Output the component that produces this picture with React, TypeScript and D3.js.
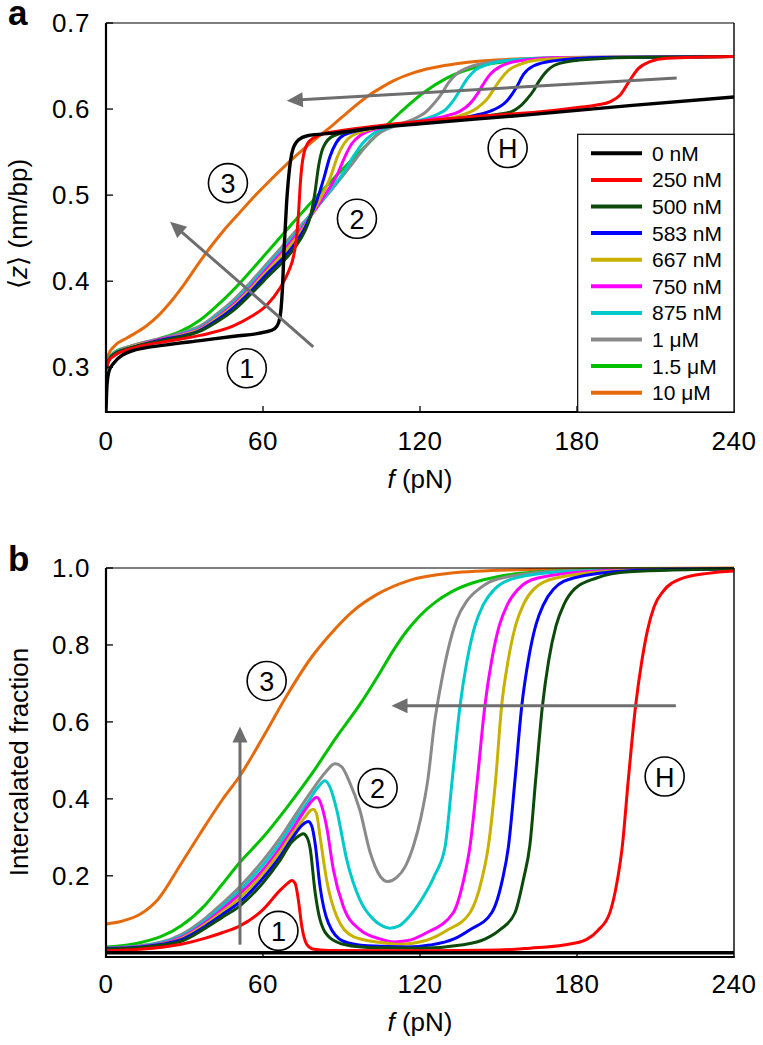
import React from 'react';
import * as d3 from 'd3';

// ---------- labels, colours, ticks ----------
const seriesLabels = ['0 nM', '250 nM', '500 nM', '583 nM', '667 nM', '750 nM', '875 nM', '1 μM', '1.5 μM', '10 μM'];
const seriesColors = ['#000000', '#ff0000', '#0b4a0b', '#0000ff', '#c9b100', '#ff00ff', '#00c9c9', '#8a8a8a', '#00c000', '#e66a0c'];
const xTicks = [0, 60, 120, 180, 240];
const yTicksA = [0.3, 0.4, 0.5, 0.6, 0.7];
const yTicksB = [0.2, 0.4, 0.6, 0.8, 1.0];

// ---------- panel a: <z> (nm/bp) vs f (pN) ----------
const zA_0nM: [number, number][] = [[0, 0.249], [0.4, 0.28], [1.2, 0.296], [3, 0.305], [10, 0.319], [23, 0.326], [36, 0.331], [49, 0.336], [61, 0.341], [64.5, 0.345], [66, 0.352], [66.8, 0.365], [67.4, 0.39], [68.1, 0.44], [69, 0.49], [70, 0.527], [71.3, 0.552], [73.5, 0.564], [77, 0.569], [87, 0.572], [105, 0.579], [120, 0.583], [160, 0.593], [200, 0.604], [240, 0.614]];
const zA_250nM: [number, number][] = [[0, 0.298], [1, 0.307], [3, 0.313], [10, 0.322], [23, 0.33], [36, 0.337], [48.7, 0.348], [55, 0.358], [61.4, 0.372], [66.5, 0.392], [70, 0.413], [71.6, 0.428], [72.8, 0.45], [73.6, 0.48], [74.3, 0.515], [75.4, 0.545], [77.5, 0.562], [81.8, 0.57], [90, 0.575], [105, 0.581], [140, 0.591], [170, 0.598], [181, 0.602], [188, 0.605], [193, 0.609], [196.4, 0.616], [200.3, 0.634], [203.4, 0.647], [207.9, 0.655], [214.3, 0.659], [240, 0.661]];
const zA_500nM: [number, number][] = [[0, 0.298], [1, 0.308], [3, 0.315], [10, 0.323], [23, 0.332], [30, 0.336], [36, 0.342], [42, 0.352], [48.7, 0.366], [55, 0.384], [61.4, 0.404], [71.6, 0.437], [76, 0.458], [78, 0.474], [79.9, 0.504], [81.2, 0.533], [83.1, 0.556], [87, 0.569], [100, 0.577], [120, 0.585], [140, 0.591], [150, 0.594], [155, 0.597], [158.2, 0.603], [161, 0.612], [163.3, 0.621], [165.2, 0.631], [167.8, 0.642], [172.2, 0.652], [181, 0.657], [200, 0.66], [240, 0.661]];
const zA_583nM: [number, number][] = [[0, 0.298], [1, 0.308], [3, 0.315], [10, 0.323], [23, 0.333], [30, 0.337], [36, 0.343], [42, 0.354], [48.7, 0.369], [55, 0.387], [61.4, 0.408], [71.6, 0.441], [76, 0.462], [80, 0.489], [83.3, 0.52], [85.5, 0.544], [88, 0.561], [91, 0.57], [100, 0.577], [120, 0.584], [140, 0.592], [148, 0.599], [153.1, 0.609], [157, 0.626], [159.5, 0.64], [163.3, 0.65], [171, 0.656], [190, 0.66], [240, 0.661]];
const zA_667nM: [number, number][] = [[0, 0.298], [1, 0.308], [3, 0.315], [10, 0.324], [23, 0.333], [30, 0.338], [36, 0.344], [42, 0.356], [48.7, 0.371], [55, 0.39], [61.4, 0.411], [71.6, 0.446], [76, 0.464], [81, 0.491], [85.9, 0.522], [88.5, 0.545], [91, 0.56], [94, 0.569], [105, 0.579], [120, 0.585], [135, 0.592], [141.7, 0.601], [146, 0.613], [148.6, 0.625], [150.6, 0.634], [153.8, 0.645], [158.2, 0.652], [165, 0.657], [185, 0.66], [240, 0.661]];
const zA_750nM: [number, number][] = [[0, 0.298], [1, 0.308], [3, 0.315], [10, 0.324], [23, 0.334], [30, 0.339], [36, 0.345], [42, 0.357], [48.7, 0.373], [55, 0.392], [61.4, 0.414], [71.6, 0.449], [77, 0.47], [83, 0.497], [88.4, 0.524], [91.5, 0.546], [94, 0.56], [97, 0.569], [106, 0.579], [120, 0.586], [130, 0.592], [135, 0.597], [139, 0.606], [142, 0.618], [144.2, 0.629], [147, 0.641], [151, 0.65], [158, 0.656], [175, 0.66], [240, 0.661]];
const zA_875nM: [number, number][] = [[0, 0.298], [1, 0.308], [3, 0.316], [10, 0.324], [23, 0.334], [30, 0.34], [36, 0.346], [42, 0.359], [48.7, 0.375], [55, 0.395], [61.4, 0.417], [71.6, 0.452], [78, 0.476], [85, 0.503], [91, 0.527], [95, 0.547], [98, 0.56], [102, 0.571], [110, 0.581], [120, 0.587], [126, 0.593], [130, 0.6], [133, 0.611], [135.3, 0.622], [138, 0.635], [141, 0.645], [146, 0.652], [155, 0.657], [175, 0.66], [240, 0.661]];
const zA_1uM: [number, number][] = [[0, 0.298], [1, 0.309], [3, 0.316], [10, 0.325], [23, 0.335], [30, 0.341], [36, 0.348], [42, 0.361], [48.7, 0.378], [55, 0.398], [61.4, 0.42], [71.6, 0.455], [80, 0.484], [88, 0.513], [94, 0.536], [98, 0.552], [101, 0.563], [105, 0.573], [112, 0.582], [118, 0.589], [122, 0.596], [125.5, 0.607], [128.3, 0.618], [131, 0.631], [134, 0.641], [139, 0.649], [148, 0.655], [160, 0.658], [190, 0.66], [240, 0.661]];
const zA_15uM: [number, number][] = [[0, 0.298], [1, 0.31], [3, 0.317], [10, 0.325], [20, 0.333], [28, 0.341], [36, 0.355], [44, 0.376], [51.2, 0.398], [61.4, 0.433], [74.1, 0.477], [86.9, 0.519], [99.6, 0.558], [112.4, 0.596], [121.3, 0.619], [130.2, 0.636], [143, 0.65], [160, 0.657], [190, 0.66], [240, 0.661]];
const zA_10uM: [number, number][] = [[0, 0.3], [1, 0.315], [3, 0.324], [8, 0.334], [15, 0.347], [20, 0.36], [25, 0.377], [30, 0.397], [35, 0.419], [40, 0.44], [45, 0.459], [50, 0.476], [55, 0.493], [62, 0.515], [71.6, 0.543], [80, 0.565], [86.9, 0.582], [93, 0.598], [99.6, 0.614], [104.7, 0.624], [110, 0.633], [117.4, 0.642], [130.2, 0.651], [149, 0.657], [180, 0.66], [240, 0.661]];

// ---------- panel b: intercalated fraction vs f (pN) ----------
const phiB_0nM: [number, number][] = [[0, 0.0], [240, 0.0]];
const phiB_250nM: [number, number][] = [[0, 0.005], [13, 0.009], [28.75, 0.022], [38, 0.038], [44.4, 0.052], [51.2, 0.07], [60.1, 0.113], [66.5, 0.162], [69.5, 0.181], [71, 0.188], [72.3, 0.18], [73.5, 0.138], [74.8, 0.07], [76.7, 0.022], [79, 0.01], [85, 0.006], [120, 0.005], [150, 0.007], [162, 0.012], [175, 0.02], [183.7, 0.035], [188, 0.058], [192.6, 0.105], [195.2, 0.18], [197.3, 0.276], [199.6, 0.449], [202.4, 0.642], [204.7, 0.755], [207, 0.84], [209.5, 0.9], [213, 0.94], [219.4, 0.971], [230, 0.986], [240, 0.992]];
const phiB_500nM: [number, number][] = [[0, 0.01], [13, 0.014], [28.75, 0.03], [38, 0.064], [44.4, 0.092], [51.2, 0.122], [60, 0.182], [66.5, 0.24], [71, 0.288], [74, 0.305], [75.4, 0.309], [76.8, 0.3], [78, 0.272], [79.9, 0.158], [81.8, 0.086], [85.6, 0.039], [92, 0.02], [100, 0.014], [120, 0.012], [136.5, 0.021], [145, 0.036], [150.6, 0.06], [156.3, 0.104], [159.5, 0.19], [162, 0.28], [164.2, 0.449], [166.8, 0.642], [169.2, 0.76], [172, 0.85], [175, 0.905], [179, 0.945], [187.5, 0.974], [200, 0.99], [240, 0.998]];
const phiB_583nM: [number, number][] = [[0, 0.011], [13, 0.015], [28.75, 0.034], [38, 0.069], [44.4, 0.099], [51.2, 0.132], [60, 0.194], [66.5, 0.25], [71, 0.296], [75, 0.332], [77.3, 0.341], [78.6, 0.33], [79.9, 0.285], [81.8, 0.172], [85, 0.077], [90.7, 0.03], [100, 0.018], [115, 0.015], [123.8, 0.02], [133, 0.036], [139.1, 0.06], [147.4, 0.104], [151.5, 0.19], [153.8, 0.276], [156.3, 0.449], [158.9, 0.642], [161.4, 0.76], [164.2, 0.85], [167.2, 0.905], [171, 0.945], [178.7, 0.974], [200, 0.993], [240, 0.998]];
const phiB_667nM: [number, number][] = [[0, 0.011], [13, 0.015], [28.75, 0.037], [38, 0.074], [44.4, 0.106], [51.2, 0.143], [60, 0.205], [66.5, 0.262], [71, 0.307], [76, 0.352], [78, 0.369], [79.2, 0.373], [80.5, 0.36], [81.8, 0.302], [84.3, 0.19], [88.2, 0.094], [94.5, 0.042], [104.7, 0.027], [112, 0.022], [117.3, 0.025], [124, 0.036], [130.2, 0.058], [139.1, 0.104], [143.6, 0.19], [146.1, 0.276], [148.9, 0.449], [151.2, 0.642], [153.7, 0.76], [156.5, 0.85], [159.5, 0.905], [163.5, 0.945], [172, 0.974], [200, 0.994], [240, 0.998]];
const phiB_750nM: [number, number][] = [[0, 0.011], [13, 0.016], [28.75, 0.04], [38, 0.079], [44.4, 0.113], [51.2, 0.153], [60, 0.215], [66.5, 0.272], [71, 0.318], [76, 0.37], [79, 0.397], [80.5, 0.404], [82, 0.39], [84.3, 0.328], [86.9, 0.216], [90.7, 0.12], [97, 0.06], [104.7, 0.036], [110, 0.028], [115, 0.031], [122.5, 0.052], [132.7, 0.104], [136.7, 0.19], [139.1, 0.276], [141.9, 0.449], [144.8, 0.642], [147.4, 0.76], [150.3, 0.85], [153.4, 0.905], [157.5, 0.945], [165, 0.974], [190, 0.993], [240, 0.998]];
const phiB_875nM: [number, number][] = [[0, 0.012], [13, 0.017], [28.75, 0.043], [38, 0.084], [44.4, 0.12], [51.2, 0.162], [60, 0.228], [66.5, 0.285], [71, 0.332], [77, 0.39], [81, 0.43], [83.7, 0.447], [85.5, 0.432], [88.2, 0.371], [92, 0.242], [97, 0.138], [102, 0.088], [105, 0.072], [108.5, 0.064], [112, 0.07], [116, 0.095], [121.3, 0.146], [125.5, 0.2], [129.6, 0.276], [132.3, 0.449], [135.3, 0.642], [138, 0.76], [141, 0.85], [144.2, 0.905], [148.5, 0.945], [156, 0.973], [175, 0.99], [240, 0.998]];
const phiB_1uM: [number, number][] = [[0, 0.012], [13, 0.018], [28.75, 0.047], [38, 0.09], [44.4, 0.128], [51.2, 0.172], [60, 0.24], [66.5, 0.298], [71, 0.344], [78, 0.415], [84, 0.47], [87.5, 0.491], [90, 0.484], [93, 0.445], [97, 0.371], [100.9, 0.262], [104.7, 0.2], [107.7, 0.185], [111, 0.195], [114.5, 0.226], [117.6, 0.28], [120.3, 0.35], [123, 0.45], [125.6, 0.6], [127.8, 0.69], [130.8, 0.79], [134, 0.865], [138, 0.915], [143, 0.948], [150, 0.972], [175, 0.993], [240, 0.999]];
const phiB_15uM: [number, number][] = [[0, 0.015], [13, 0.026], [28.75, 0.07], [38, 0.125], [44.4, 0.178], [51.2, 0.235], [60, 0.3], [69.4, 0.38], [78.75, 0.466], [88, 0.56], [97.5, 0.65], [104, 0.72], [110, 0.788], [115, 0.837], [120, 0.876], [126, 0.912], [132, 0.938], [140, 0.961], [150, 0.978], [165, 0.99], [190, 0.997], [240, 0.999]];
const phiB_10uM: [number, number][] = [[0, 0.075], [6, 0.082], [13, 0.1], [20, 0.14], [28.75, 0.232], [36, 0.31], [44.4, 0.397], [51.2, 0.46], [60, 0.56], [69.4, 0.672], [78.75, 0.77], [85, 0.822], [94.4, 0.888], [103.75, 0.932], [116, 0.968], [132, 0.987], [154, 0.995], [200, 0.999], [240, 1.0]];

const panelAData = [zA_0nM, zA_250nM, zA_500nM, zA_583nM, zA_667nM, zA_750nM, zA_875nM, zA_1uM, zA_15uM, zA_10uM];
const panelBData = [phiB_0nM, phiB_250nM, phiB_500nM, phiB_583nM, phiB_667nM, phiB_750nM, phiB_875nM, phiB_1uM, phiB_15uM, phiB_10uM];

// annotations in data units
const annotA = [
  { t: '3', f: 46.6, v: 0.514 },
  { t: '2', f: 95.9, v: 0.4725 },
  { t: '1', f: 53.8, v: 0.2988 },
  { t: 'H', f: 153.5, v: 0.5547 },
];
const annotB = [
  { t: '3', f: 61.4, v: 0.7065 },
  { t: '2', f: 103.8, v: 0.428 },
  { t: '1', f: 65.9, v: 0.057 },
  { t: 'H', f: 213.5, v: 0.458 },
];
const arrowsA = [
  { f0: 218.1, v0: 0.636, f1: 69.1, v1: 0.6098 },
  { f0: 79.2, v0: 0.3238, f1: 24.5, v1: 0.469 },
];
const arrowsB = [
  { f0: 51.2, v0: 0.021, f1: 51.2, v1: 0.588 },
  { f0: 217.8, v0: 0.642, f1: 109.1, v1: 0.642 },
];

const FONT = '"Liberation Sans", Arial, Helvetica, sans-serif';
const W = 763;
const H = 1045;
const X0 = 106;
const X1 = 734;

function Arrow({ x0, y0, x1, y1 }: { x0: number; y0: number; x1: number; y1: number }) {
  const dx = x1 - x0;
  const dy = y1 - y0;
  const L = Math.hypot(dx, dy);
  const ux = dx / L;
  const uy = dy / L;
  const hl = 16;
  const hw = 7.5;
  const bx = x1 - ux * hl;
  const by = y1 - uy * hl;
  const pts = [
    [x1, y1],
    [bx - uy * hw, by + ux * hw],
    [bx + uy * hw, by - ux * hw],
  ];
  return (
    <g>
      <line x1={x0} y1={y0} x2={bx + ux * 2} y2={by + uy * 2} stroke="#6e6e6e" strokeWidth={3} />
      <polygon points={pts.map((p) => p.join(',')).join(' ')} fill="#6e6e6e" />
    </g>
  );
}

function Panel({
  id, top, bottom, yDomain, yTicks, yFmt, data, annots, arrows, yTitle, letter, tickLabelY, xTitleY, showLegend,
}: any) {
  const x = d3.scaleLinear().domain([0, 240]).range([X0, X1]);
  const y = d3.scaleLinear().domain(yDomain).range([bottom, top]);
  const line = d3
    .line<[number, number]>()
    .x((d) => x(d[0]))
    .y((d) => y(d[1]))
    .curve(d3.curveMonotoneX);
  const order = d3.range(data.length).reverse();
  return (
    <g>
      <defs>
        <clipPath id={`clip-${id}`}>
          <rect x={X0} y={top - 3} width={X1 - X0} height={bottom - top + 3} />
        </clipPath>
      </defs>
      <g clipPath={`url(#clip-${id})`}>
        {order.map((i: number) => (
          <path
            key={i}
            d={line(data[i]) || ''}
            fill="none"
            stroke={seriesColors[i]}
            strokeWidth={i === 0 ? 3.4 : 3}
            strokeLinejoin="round"
          />
        ))}
      </g>
      {/* frame */}
      <line x1={X0} y1={top} x2={X1} y2={top} stroke="#000" strokeWidth={1.2} />
      <line x1={X1} y1={top} x2={X1} y2={bottom} stroke="#000" strokeWidth={1.4} />
      <line x1={X0} y1={top} x2={X0} y2={bottom + 1} stroke="#000" strokeWidth={2.2} />
      <line x1={X0 - 1} y1={bottom} x2={X1 + 0.7} y2={bottom} stroke="#000" strokeWidth={2.2} />
      {/* x ticks */}
      {xTicks.map((t) => (
        <g key={`xt${t}`}>
          {t > 0 && t < 240 && <line x1={x(t)} x2={x(t)} y1={bottom} y2={bottom - 6} stroke="#000" strokeWidth={1.3} />}
          <text x={x(t)} y={tickLabelY} textAnchor="middle" fontSize={26} letterSpacing={0.6} fontFamily={FONT}>
            {t}
          </text>
        </g>
      ))}
      {/* y ticks */}
      {yTicks.map((t: number) => (
        <g key={`yt${t}`}>
          <line x1={X0} x2={X0 + 7} y1={y(t)} y2={y(t)} stroke="#000" strokeWidth={1.3} />
          <text x={90} y={y(t)} textAnchor="end" dominantBaseline="central" fontSize={26} letterSpacing={0.6} fontFamily={FONT}>
            {yFmt(t)}
          </text>
        </g>
      ))}
      {/* axis titles */}
      <text x={(X0 + X1) / 2} y={xTitleY} textAnchor="middle" fontSize={26} fontFamily={FONT}>
        <tspan fontStyle="italic">f</tspan>
        <tspan> (pN)</tspan>
      </text>
      <text
        transform={`translate(${yTitle.x},${yTitle.y}) rotate(-90)`}
        textAnchor="middle"
        fontSize={26}
        fontFamily={FONT}
      >
        {yTitle.parts.map((p: any, k: number) => (
          <tspan key={k} fontStyle={p.italic ? 'italic' : 'normal'} fontFamily={p.font || FONT}>
            {p.s}
          </tspan>
        ))}
      </text>
      {/* panel letter */}
      <text x={8} y={letter.y} fontSize={35} fontWeight="bold" fontFamily={FONT}>
        {letter.t}
      </text>
      {/* arrows */}
      {arrows.map((a: any, k: number) => (
        <Arrow key={k} x0={x(a.f0)} y0={y(a.v0)} x1={x(a.f1)} y1={y(a.v1)} />
      ))}
      {/* circled labels */}
      {annots.map((a: any, k: number) => (
        <g key={k}>
          <circle cx={x(a.f)} cy={y(a.v)} r={19.5} fill="none" stroke="#000" strokeWidth={1.6} />
          <text
            x={x(a.f)}
            y={y(a.v) + 1}
            textAnchor="middle"
            dominantBaseline="central"
            fontSize={27}
            fontFamily={FONT}
          >
            {a.t}
          </text>
        </g>
      ))}
      {showLegend && (
        <g>
          <rect x={577.7} y={134.3} width={X1 - 577.7} height={bottom - 134.3} fill="#fff" stroke="#000" strokeWidth={1.2} />
          {seriesLabels.map((lab, i) => {
            const ly = 153.3 + i * 26.6;
            return (
              <g key={lab}>
                <line x1={591} x2={642} y1={ly} y2={ly} stroke={seriesColors[i]} strokeWidth={4} />
                <text x={652} y={ly} dominantBaseline="central" fontSize={21} fontFamily={FONT}>
                  {lab}
                </text>
              </g>
            );
          })}
        </g>
      )}
    </g>
  );
}

export default function App() {
  return (
    <svg
      width={W}
      height={H}
      viewBox={`0 0 ${W} ${H}`}
      style={{ position: 'absolute', left: 0, top: 0, display: 'block', background: '#fff' }}
    >
      <rect x={0} y={0} width={W} height={H} fill="#fff" />
      <Panel
        id="a"
        top={23}
        bottom={412}
        yDomain={[0.248, 0.7]}
        yTicks={yTicksA}
        yFmt={(t: number) => d3.format('.1f')(t)}
        data={panelAData}
        annots={annotA}
        arrows={arrowsA}
        yTitle={{
          x: 27,
          y: 224,
          parts: [
            { s: '⟨', font: '"DejaVu Sans", sans-serif' },
            { s: 'z', italic: true },
            { s: '⟩', font: '"DejaVu Sans", sans-serif' },
            { s: ' (nm/bp)' },
          ],
        }}
        letter={{ t: 'a', y: 25 }}
        tickLabelY={450}
        xTitleY={488}
        showLegend={true}
      />
      <Panel
        id="b"
        top={568}
        bottom={957}
        yDomain={[-0.011, 1.0]}
        yTicks={yTicksB}
        yFmt={(t: number) => d3.format('.1f')(t)}
        data={panelBData}
        annots={annotB}
        arrows={arrowsB}
        yTitle={{ x: 28, y: 762, parts: [{ s: 'Intercalated fraction' }] }}
        letter={{ t: 'b', y: 571 }}
        tickLabelY={993}
        xTitleY={1031}
        showLegend={false}
      />
    </svg>
  );
}
